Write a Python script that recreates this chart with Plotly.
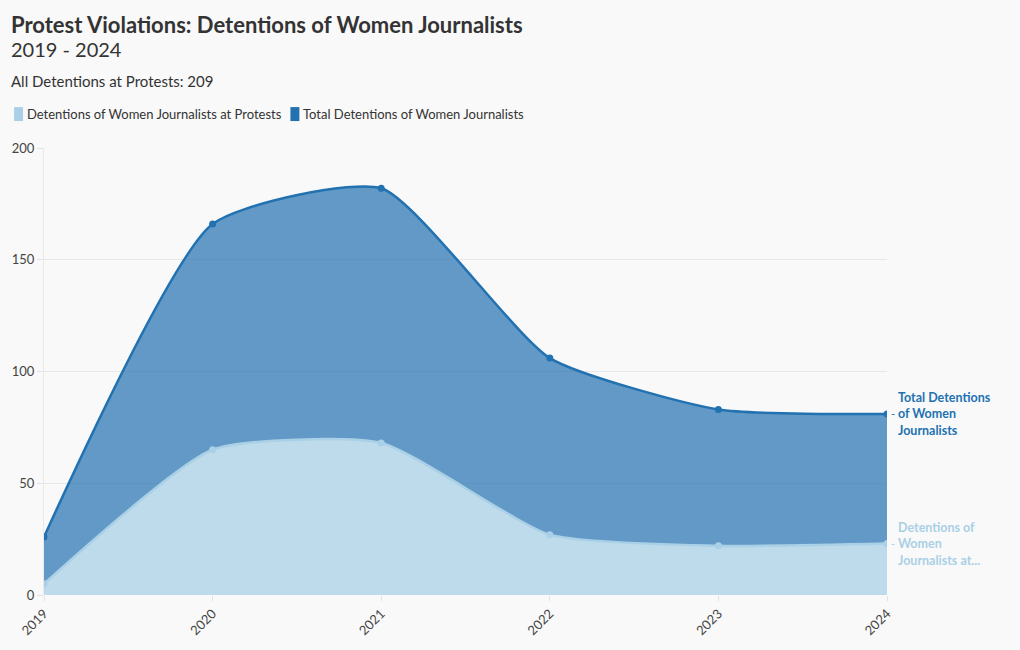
import plotly.graph_objects as go

years = ["2019", "2020", "2021", "2022", "2023", "2024"]
total_detentions = [26, 166, 182, 106, 83, 81]
protest_detentions = [5, 65, 68, 27, 22, 23]
y_ticks = [0, 50, 100, 150, 200]
series_names = ["Detentions of Women Journalists at Protests", "Total Detentions of Women Journalists"]
end_label_total = ["Total Detentions", "of Women", "Journalists"]
end_label_protest = ["Detentions of", "Women", "Journalists at..."]

dark = "#2271b1"
dark_fill = "rgba(34,113,177,0.70)"
light = "#a9d0e6"
light_fill = "rgba(196,224,238,0.93)"
font_family = "Lato, 'Noto Sans', sans-serif"

W, H = 1020, 650
ML, MR, MT, MB = 42, 133, 148, 54
PH = H - MT - MB
PW = W - ML - MR


def px_x(x):
    return (x - ML) / PW


def px_y(y):
    return (H - MB - y) / PH


fig = go.Figure()
fig.add_trace(go.Scatter(
    x=years, y=total_detentions, name=series_names[1],
    mode="lines+markers", line=dict(color=dark, width=2.5, shape="spline", smoothing=0.55),
    marker=dict(size=7, color=dark), fill="tozeroy", fillcolor=dark_fill,
    showlegend=False,
))
fig.add_trace(go.Scatter(
    x=years, y=protest_detentions, name=series_names[0],
    mode="lines+markers", line=dict(color=light, width=2.5, shape="spline", smoothing=0.55),
    marker=dict(size=7, color=light), fill="tozeroy", fillcolor=light_fill,
    showlegend=False,
))

annotations = [
    dict(text="<b>Protest Violations: Detentions of Women Journalists</b>", x=px_x(7), y=px_y(9),
         xref="paper", yref="paper", showarrow=False, xanchor="left", yanchor="top",
         font=dict(size=22, color="#333")),
    dict(text="2019 - 2024", x=px_x(7), y=px_y(35), xref="paper", yref="paper", showarrow=False,
         xanchor="left", yanchor="top", font=dict(size=20, color="#333")),
    dict(text="All Detentions at Protests: 209", x=px_x(7), y=px_y(70), xref="paper", yref="paper",
         showarrow=False, xanchor="left", yanchor="top", font=dict(size=15, color="#333")),
]
shapes = []

# manual legend (swatch + label)
legend_colors = [light, dark]
legend_x = [12, 289]
for name, col, lx in zip(series_names, legend_colors, legend_x):
    x0, x1 = px_x(lx), px_x(lx + 9)
    y0, y1 = px_y(121), px_y(107)
    shapes.append(dict(type="rect", xref="paper", yref="paper", x0=x0, x1=x1, y0=y0, y1=y1,
                       fillcolor=col, line=dict(width=0)))
    annotations.append(dict(text=name, x=px_x(lx + 11), y=px_y(114), xref="paper", yref="paper",
                            showarrow=False, xanchor="left", yanchor="middle",
                            font=dict(size=13, color="#333")))

# end-of-line labels
for lines, val, col in [(end_label_total, total_detentions[-1], dark),
                        (end_label_protest, protest_detentions[-1], light)]:
    annotations.append(dict(text="-", x=1, y=val, xref="paper", yref="y", showarrow=False,
                            xanchor="left", yanchor="middle", xshift=2, font=dict(size=11, color=col)))
    annotations.append(dict(text="<b>" + "<br>".join(lines) + "</b>", x=1, y=val, xref="paper",
                            yref="y", showarrow=False, xanchor="left", yanchor="middle", xshift=10,
                            align="left", borderpad=0, font=dict(size=12.5, color=col)))

fig.update_layout(
    width=W, height=H,
    paper_bgcolor="#f9f9f9", plot_bgcolor="#f9f9f9",
    font=dict(family=font_family, color="#333333", size=13),
    margin=dict(l=ML, r=MR, t=MT, b=MB),
    showlegend=False,
    xaxis=dict(type="category", range=[0, 5], tickangle=-45, showgrid=False,
               showline=False, zeroline=False, ticks="outside", ticklen=5,
               tickcolor="#e3e3e3", tickfont=dict(size=13, color="#444")),
    yaxis=dict(range=[0, 200], tickvals=y_ticks, gridcolor="#e8e8e8",
               zeroline=False, showline=True, linecolor="#e8e8e8", linewidth=1,
               ticks="outside", ticklen=6, tickcolor="#e3e3e3",
               tickfont=dict(size=13, color="#444")),
    annotations=annotations,
    shapes=shapes,
)

fig.write_html("out.html", config={"displayModeBar": False},
               post_script="document.body.style.margin='0';")
